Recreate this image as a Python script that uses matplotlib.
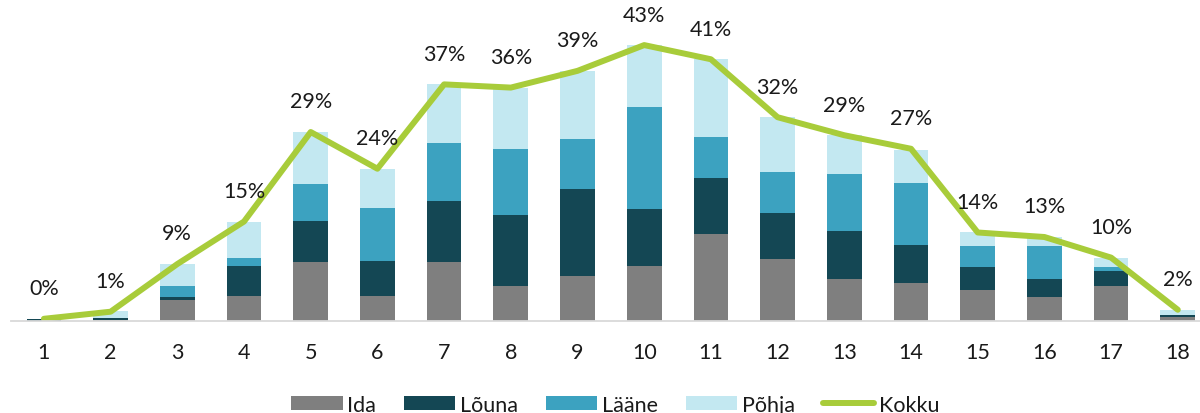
import matplotlib

matplotlib.use("Agg")
import matplotlib.pyplot as plt
import numpy as np

plt.rcParams["font.family"] = ["Lato", "DejaVu Sans"]

# Values in % per category 1..18
categories = [str(i) for i in range(1, 19)]
ida = [0.0, 0.05, 3.26, 3.79, 9.1, 3.8, 9.08, 5.36, 6.91, 8.57, 13.43, 9.66, 6.49, 5.82, 4.74, 3.76, 5.36, 0.55]
louna = [0.2, 0.3, 0.37, 4.7, 6.4, 5.5, 9.47, 11.13, 13.56, 8.74, 8.74, 7.14, 7.45, 5.95, 3.62, 2.73, 2.38, 0.3]
laane = [0.1, 0.1, 1.8, 1.24, 5.7, 8.2, 9.0, 10.14, 7.67, 15.95, 6.37, 6.37, 8.91, 9.58, 3.21, 5.12, 0.57, 0.05]
pohja = [0.0, 1.0, 3.37, 5.64, 8.1, 6.0, 9.16, 9.58, 10.65, 9.52, 12.07, 8.43, 5.95, 5.12, 2.17, 1.35, 1.5, 0.7]
kokku = [0.3, 1.4, 8.8, 15.4, 29.3, 23.6, 36.7, 36.2, 38.8, 42.8, 40.6, 31.6, 28.8, 26.7, 13.7, 13.0, 9.8, 1.7]

GRAY = "#7f7f7f"
DARK = "#144754"
MID = "#3ca2c0"
LIGHT = "#c3e8f1"
GREEN = "#a8cc3a"
AXIS = "#d9d9d9"
INK = "#1a1a1a"
FS = 15.5

fig = plt.figure(figsize=(12, 4.14), dpi=100)
ax = fig.add_axes([0.0088, 0.2229, 1.0005, 0.700])

x = np.arange(1, len(categories) + 1)
w = 0.52
bottom = np.zeros(len(x))
for vals, col, name in [(ida, GRAY, "Ida"), (louna, DARK, "Lõuna"),
                        (laane, MID, "Lääne"), (pohja, LIGHT, "Põhja")]:
    ax.bar(x, vals, w, bottom=bottom, color=col, label=name, zorder=2)
    bottom += np.asarray(vals)

ax.plot(x, kokku, color=GREEN, lw=4.3, label="Kokku", zorder=3,
        solid_capstyle="round", solid_joinstyle="round")
for xi, v in zip(x, kokku):
    ax.annotate(f"{v:.0f}%", (xi, v), xytext=(0, 22), textcoords="offset points",
                ha="center", va="center", fontsize=FS, color=INK,
                annotation_clip=False)

ax.set_xlim(0.5, 18.5)
ax.set_ylim(0, 45)
ax.set_xticks(x)
ax.set_xticklabels(categories, fontsize=FS, color=INK)
ax.tick_params(axis="x", length=0, pad=15)
ax.set_yticks([])
for s in ("top", "right", "left"):
    ax.spines[s].set_visible(False)
ax.spines["bottom"].set_color(AXIS)
ax.spines["bottom"].set_linewidth(1.3)
ax.spines["bottom"].set_zorder(4)

handles, labels = ax.get_legend_handles_labels()
order = [1, 2, 3, 4, 0]
fig.legend([handles[i] for i in order], [labels[i] for i in order],
           loc="center", bbox_to_anchor=(0.5125, 0.02), ncol=5, frameon=False,
           fontsize=FS, handlelength=2.4, handleheight=0.65, handletextpad=0.2,
           columnspacing=1.3, labelcolor=INK)

fig.savefig("out.png", dpi=100)
